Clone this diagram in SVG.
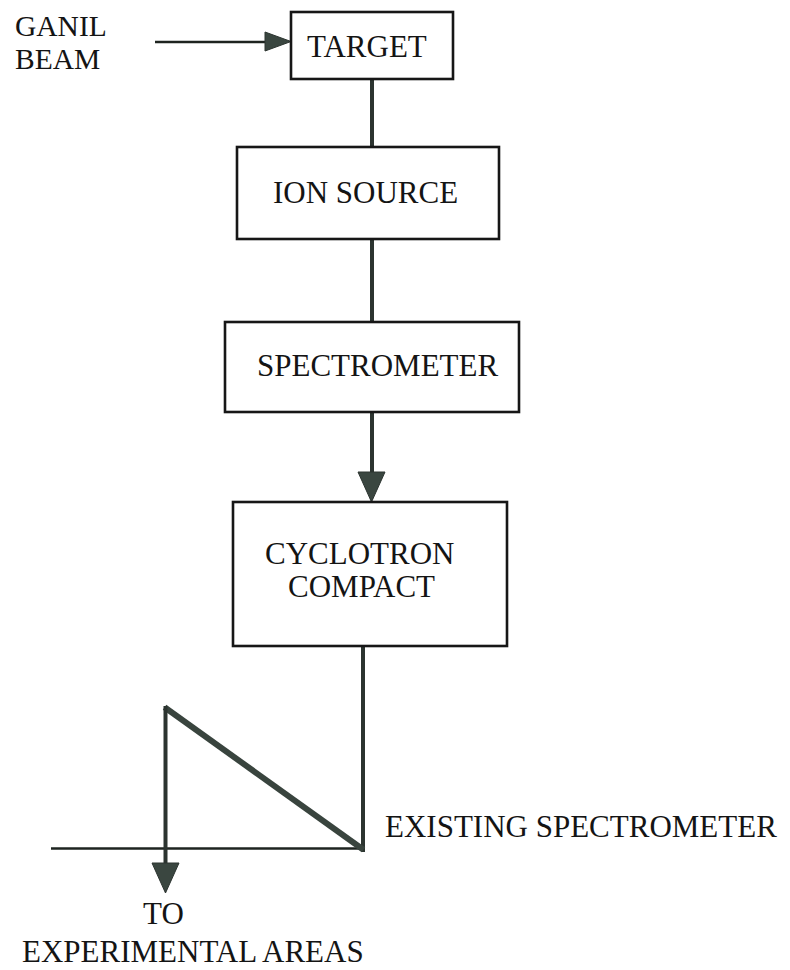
<svg xmlns="http://www.w3.org/2000/svg" width="790" height="970" viewBox="0 0 790 970">
  <style>
    .box { fill: #fff; stroke: #161616; stroke-width: 2.6; }
    .lbl { font-family: "Liberation Serif", "DejaVu Serif", serif; font-size: 31px; fill: #141414; }
    .src { font-size: 29.5px; }
    .beam { stroke: #2c3430; stroke-width: 4; fill: none; }
    .thin { stroke: #1e2420; stroke-width: 2.4; fill: none; }
    .head { fill: #3a4640; stroke: #2c3430; stroke-width: 1; }
  </style>
  <rect width="790" height="970" fill="#fff"/>

  <!-- beam line connectors -->
  <g id="connectors">
    <!-- incoming beam -->
    <line class="thin" x1="155" y1="42" x2="266" y2="42"/>
    <polygon class="head" points="265,32 291,41.5 265,51"/>
    <!-- target to ion source to spectrometer -->
    <line class="beam" x1="372" y1="79" x2="372" y2="147"/>
    <line class="beam" x1="372" y1="239" x2="372" y2="322"/>
    <!-- spectrometer to cyclotron -->
    <line class="beam" x1="372" y1="412" x2="372" y2="474"/>
    <polygon class="head" points="358,472 385,472 371.5,502"/>
    <!-- cyclotron output down to existing line -->
    <line class="beam" x1="363" y1="646" x2="363" y2="852"/>
    <!-- existing spectrometer horizontal line -->
    <line class="thin" x1="51" y1="848.5" x2="363" y2="848.5"/>
    <!-- diagonal return -->
    <line stroke="#39443e" stroke-width="6" stroke-linecap="square" x1="167" y1="709" x2="361" y2="848"/>
    <!-- branch to experimental areas -->
    <line class="beam" x1="165.5" y1="706" x2="165.5" y2="865"/>
    <polygon class="head" points="152,863 179,863 165.5,893"/>
  </g>

  <g id="ganil-beam">
    <text class="lbl src" x="15" y="36">GANIL</text>
    <text class="lbl src" x="15" y="69">BEAM</text>
  </g>

  <g id="target">
    <rect class="box" x="291" y="12" width="162" height="67"/>
    <text class="lbl" x="307" y="57">TARGET</text>
  </g>

  <g id="ion-source">
    <rect class="box" x="237" y="147" width="262" height="92"/>
    <text class="lbl" x="273" y="203">ION SOURCE</text>
  </g>

  <g id="spectrometer">
    <rect class="box" x="225" y="322" width="294" height="90"/>
    <text class="lbl" x="257" y="376">SPECTROMETER</text>
  </g>

  <g id="cyclotron">
    <rect class="box" x="233" y="502" width="274" height="144"/>
    <text class="lbl" x="265" y="564">CYCLOTRON</text>
    <text class="lbl" x="288" y="597">COMPACT</text>
  </g>

  <g id="existing-spectrometer">
    <text class="lbl" x="385" y="837">EXISTING SPECTROMETER</text>
  </g>

  <g id="experimental-areas">
    <text class="lbl" x="143" y="924">TO</text>
    <text class="lbl" x="22" y="962">EXPERIMENTAL AREAS</text>
  </g>
</svg>
